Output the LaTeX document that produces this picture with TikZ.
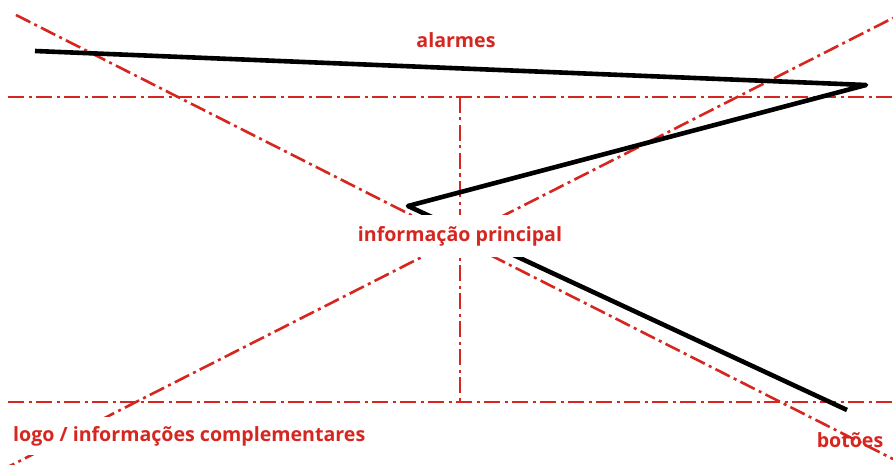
\documentclass[tikz,border=0pt]{standalone}
\usepackage{fontspec}
\setmainfont{Open Sans}
\definecolor{guide}{RGB}{214,38,32}
\tikzset{
  guideline/.style={draw=guide, line width=2.6pt,
    dash pattern=on 16pt off 4.5pt on 3pt off 4.5pt},
  flow/.style={draw=black, line width=4.6pt, line join=round, line cap=butt},
  zonelabel/.style={text=guide, font=\bfseries\fontsize{19.6}{22}\selectfont, inner sep=0pt},
  maskedlabel/.style={zonelabel, fill=white, inner xsep=4pt, inner ysep=11pt}
}
\begin{document}
\begin{tikzpicture}[x=1pt,y=-1pt]
  \useasboundingbox (0,0) rectangle (893,465);
  \fill[white] (0,0) rectangle (893,465);
  % frame of the layout grid
  \coordinate (hl1) at (8,97);   \coordinate (hr1) at (893,97);
  \coordinate (hl2) at (8,402);  \coordinate (hr2) at (893,402);
  \coordinate (vt) at (460,97);  \coordinate (vb) at (460,402);
  \coordinate (d1a) at (16,15);  \coordinate (d1b) at (893,459);
  \coordinate (d2a) at (0,471);  \coordinate (d2b) at (893,18);
  \draw[guideline] (hl1) -- (hr1);
  \draw[guideline] (hl2) -- (hr2);
  \draw[guideline] (vt) -- (vb);
  \draw[guideline] (d1a) -- (d1b);
  \draw[guideline] (d2a) -- (d2b);
  % reading path
  \coordinate (p0) at (35,51);
  \coordinate (p1) at (866,85);
  \coordinate (p2) at (408,206);
  \coordinate (p3) at (847,410);
  \draw[flow] (p0) -- (p1) -- (p2) -- (p3);
  % zone labels
  \node[zonelabel] (alarmes) at (456,40) {alarmes};
  \node[maskedlabel, minimum width=262pt] (principal) at (460,236) {informação principal};
  \node[maskedlabel, anchor=west, inner ysep=9pt] (logo) at (9,436) {logo / informações complementares};
  \node[zonelabel] (botoes) at (850,440) {botões};
\end{tikzpicture}
\end{document}
